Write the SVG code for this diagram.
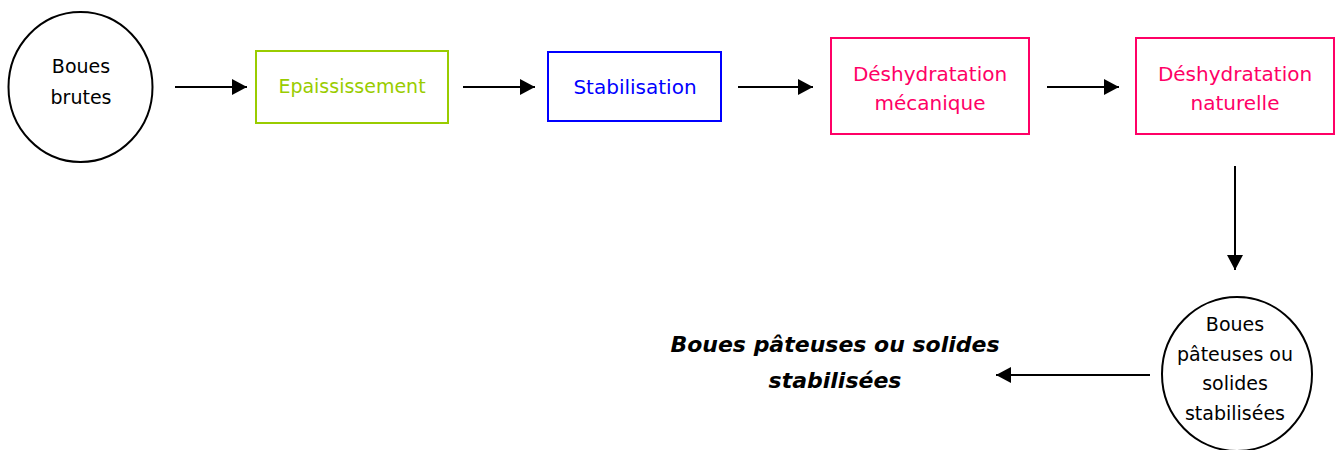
<svg xmlns="http://www.w3.org/2000/svg" width="1343" height="450" viewBox="0 0 1343 450">
  <style>
    text { font-family: "Comic Sans MS", "DejaVu Sans", sans-serif; text-anchor: middle; }
    .lbl { font-size: 19px; }
    .lg { font-size: 20px; }
    .small { font-size: 19px; fill: #000; }
    .green { fill: #99cc00; }
    .blue { fill: #0000ff; }
    .pink { fill: #ff0066; }
    .node { fill: #fff; stroke-width: 2; }
    .conn { stroke: #000; stroke-width: 2; fill: none; marker-end: url(#arrow); }
    .out { font-size: 22px; font-weight: bold; font-style: italic; fill: #000; }
  </style>
  <defs>
    <marker id="arrow" viewBox="0 0 15 16" refX="15" refY="8" markerWidth="15" markerHeight="16" markerUnits="userSpaceOnUse" orient="auto">
      <path d="M0,0 L15,8 L0,16 Z" fill="#000"/>
    </marker>
  </defs>
  <rect width="1343" height="450" fill="#fff"/>

  <g id="boues-brutes">
    <ellipse class="node" cx="80.5" cy="87" rx="72" ry="75" stroke="#000"/>
    <text class="lbl" x="81" y="73" fill="#000">Boues</text>
    <text class="lbl" x="81" y="104" fill="#000">brutes</text>
  </g>

  <g id="epaississement">
    <rect class="node" x="256" y="51" width="192" height="72" stroke="#99cc00"/>
    <text class="lbl green" x="352" y="93">Epaississement</text>
  </g>

  <g id="stabilisation">
    <rect class="node" x="548" y="52" width="173" height="69" stroke="#0000ff"/>
    <text class="lg blue" x="635" y="94">Stabilisation</text>
  </g>

  <g id="deshydratation-mecanique">
    <rect class="node" x="831" y="38" width="198" height="96" stroke="#ff0066"/>
    <text class="lg pink" x="930" y="81">Déshydratation</text>
    <text class="lg pink" x="930" y="110">mécanique</text>
  </g>

  <g id="deshydratation-naturelle">
    <rect class="node" x="1136" y="38" width="198" height="96" stroke="#ff0066"/>
    <text class="lg pink" x="1235" y="81">Déshydratation</text>
    <text class="lg pink" x="1235" y="110">naturelle</text>
  </g>

  <g id="boues-stabilisees">
    <ellipse class="node" cx="1237" cy="374" rx="75" ry="77" stroke="#000"/>
    <text class="small" x="1235" y="331">Boues</text>
    <text class="small" x="1235" y="361">pâteuses ou</text>
    <text class="small" x="1235" y="390">solides</text>
    <text class="small" x="1235" y="420">stabilisées</text>
  </g>

  <g id="produit-final">
    <text class="out" x="835" y="352">Boues pâteuses ou solides</text>
    <text class="out" x="835" y="388">stabilisées</text>
  </g>

  <g id="connectors">
    <line class="conn" x1="175" y1="87" x2="247" y2="87"/>
    <line class="conn" x1="463" y1="87" x2="535" y2="87"/>
    <line class="conn" x1="738" y1="87" x2="813" y2="87"/>
    <line class="conn" x1="1047" y1="87" x2="1119" y2="87"/>
    <line class="conn" x1="1235" y1="166" x2="1235" y2="270"/>
    <line class="conn" x1="1150" y1="375" x2="996" y2="375"/>
  </g>
</svg>
